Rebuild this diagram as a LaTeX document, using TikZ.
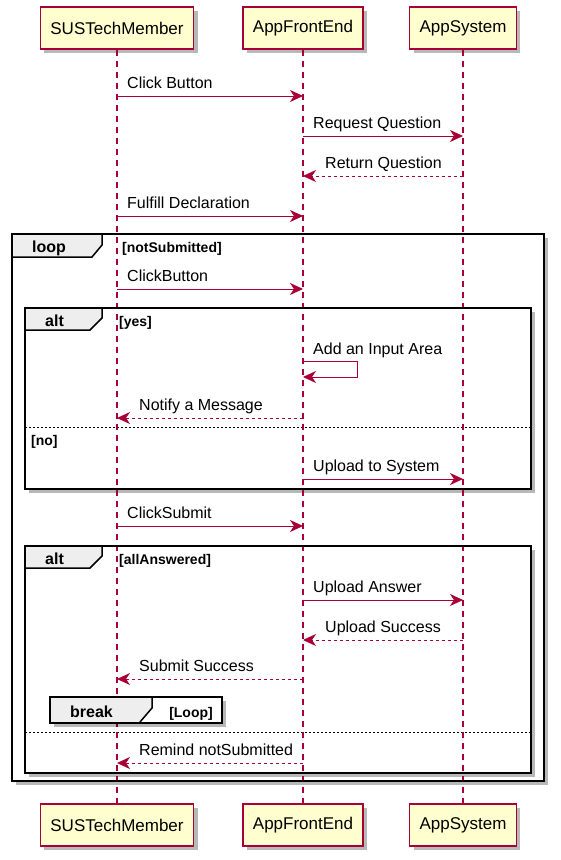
\documentclass[tikz,border=0pt]{standalone}
\usepackage{fontspec}
\setmainfont{Liberation Sans}
\usetikzlibrary{arrows.meta,shadows}
\definecolor{pborder}{HTML}{A80036}
\definecolor{pfill}{HTML}{FEFECE}
\definecolor{tabfill}{HTML}{EEEEEE}
\tikzset{
  shad/.style={drop shadow={shadow xshift=4pt,shadow yshift=-4pt,fill=black,opacity=0.28}},
  part/.style={draw=pborder, line width=1.5pt, fill=pfill, font=\fontsize{17}{20}\selectfont,
    minimum height=42pt, inner xsep=10pt, shad},
  life/.style={color=pborder, line width=1.3pt, dash pattern=on 6pt off 5pt},
  msg/.style={draw=pborder, line width=1pt, -{Stealth[length=13pt,width=12pt,inset=4pt]}},
  ret/.style={msg, dash pattern=on 3pt off 3pt},
  lbl/.style={font=\fontsize{16}{19}\selectfont, inner sep=0pt, anchor=base west},
  kw/.style={font=\bfseries\fontsize{16}{19}\selectfont, inner sep=0pt, anchor=base west},
  cond/.style={font=\bfseries\fontsize{14}{17}\selectfont, inner sep=0pt, anchor=base west},
  framebox/.style={draw=black, line width=2pt, fill=white, shad},
  tabfillst/.style={fill=tabfill},
  tabline/.style={draw=black, line width=1.5pt},
  divider/.style={draw=black, line width=1pt, dash pattern=on 2pt off 2pt}
}
\begin{document}
\begin{tikzpicture}[x=1pt,y=-1pt]
\useasboundingbox (0,0) rectangle (560,860);
% frames (background)
\draw[framebox] (12,234) rectangle (544,781);
\fill[tabfillst] (12,234) -- (102,234) -- (102,245) -- (92,257) -- (12,257) -- cycle;
\draw[tabline] (102,234) -- (102,245) -- (92,257) -- (12,257);
\draw[framebox] (25,308) rectangle (531,489);
\fill[tabfillst] (25,308) -- (102,308) -- (102,318) -- (90,330) -- (25,330) -- cycle;
\draw[tabline] (102,308) -- (102,318) -- (90,330) -- (25,330);
\draw[framebox] (25,546) rectangle (531,773);
\fill[tabfillst] (25,546) -- (102,546) -- (102,556) -- (90,568) -- (25,568) -- cycle;
\draw[tabline] (102,546) -- (102,556) -- (90,568) -- (25,568);
\draw[divider] (25,427) -- (531,427);
\draw[divider] (25,732) -- (531,732);
% participants
\node[part] (SM) at (117,28) {SUSTechMember};
\node[part] (FE) at (303,28) {AppFrontEnd};
\node[part] (AS) at (463,28) {AppSystem};
\node[part] (SMb) at (117,825) {SUSTechMember};
\node[part] (FEb) at (303,825) {AppFrontEnd};
\node[part] (ASb) at (463,825) {AppSystem};
% lifelines
\draw[life] (SM.south) -- (SMb.north);
\draw[life] (FE.south) -- (FEb.north);
\draw[life] (AS.south) -- (ASb.north);
% redraw frame borders over lifelines
\draw[draw=black, line width=2pt] (12,234) rectangle (544,781);
\draw[draw=black, line width=2pt] (25,308) rectangle (531,489);
\draw[draw=black, line width=2pt] (25,546) rectangle (531,773);
% break box
\draw[framebox] (50,697) rectangle (222,723);
\fill[tabfillst] (50,697) -- (152,697) -- (152,708) -- (140,722) -- (50,722) -- cycle;
\draw[tabline] (152,697) -- (152,708) -- (140,722);
\draw[draw=black, line width=2pt] (50,697) rectangle (222,723);
% frame labels
\node[kw] (kloop) at (32,252) {loop};
\node[cond] (cloop) at (122,252) {[notSubmitted]};
\node[kw] (kalt1) at (45,326) {alt};
\node[cond] (calt1) at (119,326) {[yes]};
\node[cond] (cno) at (31,445) {[no]};
\node[kw] (kalt2) at (45,564) {alt};
\node[cond] (calt2) at (119,564) {[allAnswered]};
\node[kw] (kbreak) at (70,717) {break};
\node[cond, anchor=base east] (cbreak) at (213,717) {[Loop]};
% messages
\node[lbl] (l1) at (127,88) {Click Button};
\draw[msg] (SM |- 0,96) -- (FE |- 0,96);
\node[lbl] (l2) at (313,128) {Request Question};
\draw[msg] (FE |- 0,136) -- (AS |- 0,136);
\node[lbl] (l3) at (325,168) {Return Question};
\draw[ret] (AS |- 0,176) -- (FE |- 0,176);
\node[lbl] (l4) at (127,208) {Fulfill Declaration};
\draw[msg] (SM |- 0,216) -- (FE |- 0,216);
\node[lbl] (l5) at (127,281) {ClickButton};
\draw[msg] (SM |- 0,289) -- (FE |- 0,289);
\node[lbl] (l6) at (313,354) {Add an Input Area};
\coordinate (s1) at (357,361);
\coordinate (s2) at (357,377);
\draw[msg] (FE |- 0,361) -- (s1) -- (s2) -- (FE |- s2);
\node[lbl] (l7) at (139,410) {Notify a Message};
\draw[ret] (FE |- 0,418) -- (SM |- 0,418);
\node[lbl] (l8) at (313,471) {Upload to System};
\draw[msg] (FE |- 0,479) -- (AS |- 0,479);
\node[lbl] (l9) at (127,518) {ClickSubmit};
\draw[msg] (SM |- 0,526) -- (FE |- 0,526);
\node[lbl] (l10) at (313,592) {Upload Answer};
\draw[msg] (FE |- 0,600) -- (AS |- 0,600);
\node[lbl] (l11) at (325,632) {Upload Success};
\draw[ret] (AS |- 0,640) -- (FE |- 0,640);
\node[lbl] (l12) at (139,671) {Submit Success};
\draw[ret] (FE |- 0,679) -- (SM |- 0,679);
\node[lbl] (l13) at (139,755) {Remind notSubmitted};
\draw[ret] (FE |- 0,763) -- (SM |- 0,763);
\end{tikzpicture}
\end{document}
